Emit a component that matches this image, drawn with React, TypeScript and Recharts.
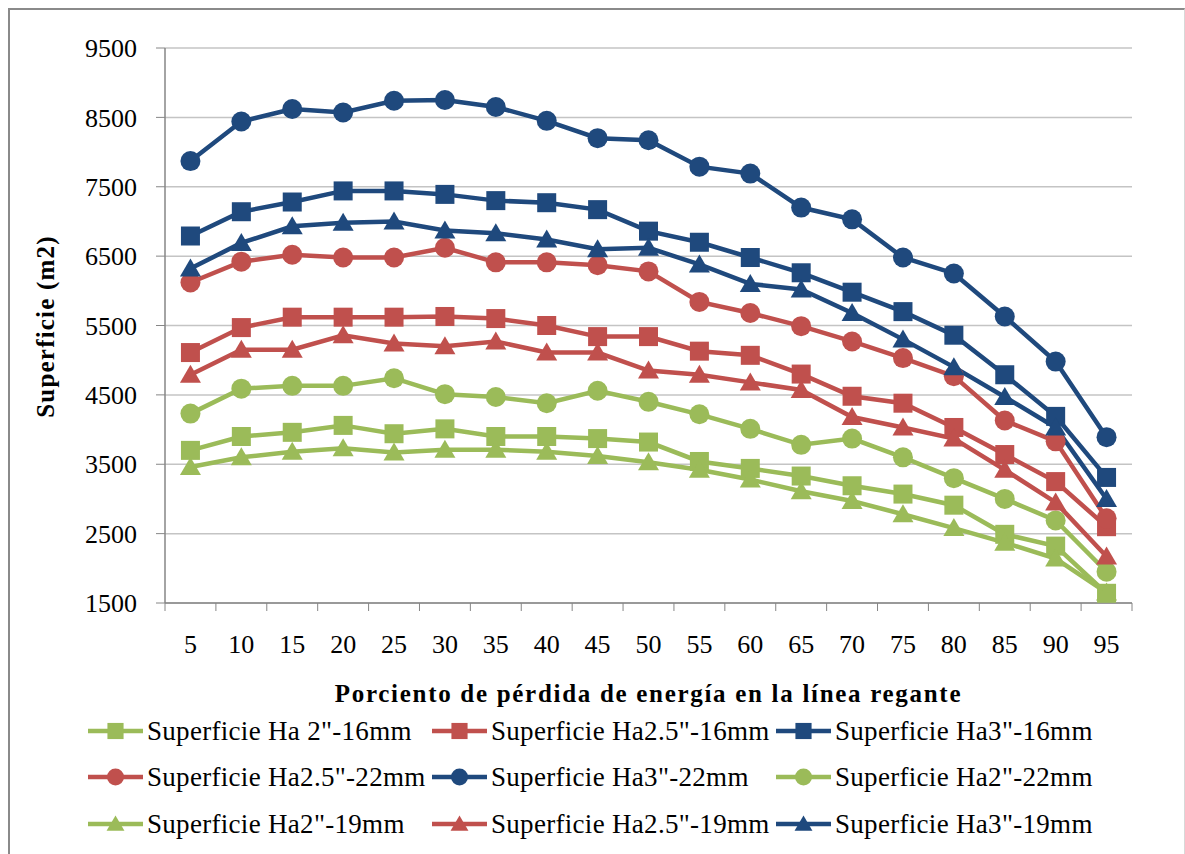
import React from "react";
import { LineChart, Line, XAxis, YAxis, CartesianGrid, Legend } from "recharts";

const categories = [5, 10, 15, 20, 25, 30, 35, 40, 45, 50, 55, 60, 65, 70, 75, 80, 85, 90, 95];
const yTicks = [1500, 2500, 3500, 4500, 5500, 6500, 7500, 8500, 9500];

const ha2_16 = [3700, 3900, 3960, 4060, 3940, 4010, 3900, 3900, 3870, 3820, 3540, 3440, 3330, 3190, 3070, 2910, 2490, 2320, 1640];
const ha25_16 = [5110, 5470, 5620, 5620, 5620, 5630, 5600, 5500, 5340, 5340, 5130, 5070, 4800, 4480, 4380, 4030, 3640, 3250, 2600];
const ha3_16 = [6790, 7140, 7280, 7440, 7440, 7390, 7300, 7270, 7170, 6860, 6700, 6480, 6260, 5980, 5700, 5360, 4790, 4190, 3310];
const ha25_22 = [6120, 6420, 6520, 6480, 6480, 6620, 6410, 6410, 6370, 6280, 5840, 5680, 5490, 5270, 5030, 4770, 4130, 3830, 2720];
const ha3_22 = [7870, 8440, 8620, 8570, 8740, 8750, 8650, 8450, 8200, 8170, 7790, 7690, 7200, 7030, 6480, 6250, 5630, 4980, 3890];
const ha2_22 = [4230, 4590, 4630, 4630, 4740, 4510, 4470, 4380, 4560, 4400, 4220, 4010, 3780, 3870, 3600, 3300, 3000, 2690, 1950];
const ha2_19 = [3460, 3600, 3680, 3730, 3670, 3710, 3710, 3680, 3620, 3530, 3420, 3280, 3110, 2970, 2780, 2580, 2370, 2140, 1650];
const ha25_19 = [4790, 5150, 5150, 5360, 5240, 5200, 5270, 5110, 5110, 4850, 4790, 4680, 4570, 4180, 4030, 3870, 3420, 2950, 2170];
const ha3_19 = [6320, 6690, 6930, 6980, 7000, 6870, 6830, 6740, 6600, 6620, 6380, 6100, 6020, 5680, 5300, 4900, 4470, 4030, 3000];

const GREEN = "#9BBB59";
const RED = "#C0504D";
const NAVY = "#1F497D";

type Shape = "square" | "circle" | "triangle";

const SERIES: { key: string; name: string; values: number[]; color: string; shape: Shape }[] = [
  { key: "s1", name: 'Superficie Ha 2"-16mm', values: ha2_16, color: GREEN, shape: "square" },
  { key: "s2", name: 'Superficie Ha2.5"-16mm', values: ha25_16, color: RED, shape: "square" },
  { key: "s3", name: 'Superficie Ha3"-16mm', values: ha3_16, color: NAVY, shape: "square" },
  { key: "s4", name: 'Superficie Ha2.5"-22mm', values: ha25_22, color: RED, shape: "circle" },
  { key: "s5", name: 'Superficie Ha3"-22mm', values: ha3_22, color: NAVY, shape: "circle" },
  { key: "s6", name: 'Superficie Ha2"-22mm', values: ha2_22, color: GREEN, shape: "circle" },
  { key: "s7", name: 'Superficie Ha2"-19mm', values: ha2_19, color: GREEN, shape: "triangle" },
  { key: "s8", name: 'Superficie Ha2.5"-19mm', values: ha25_19, color: RED, shape: "triangle" },
  { key: "s9", name: 'Superficie Ha3"-19mm', values: ha3_19, color: NAVY, shape: "triangle" },
];

const data = categories.map((c, i) => {
  const row: Record<string, number> = { x: c };
  SERIES.forEach((s) => (row[s.key] = s.values[i]));
  return row;
});

const FONT = "'Liberation Serif', 'DejaVu Serif', serif";
const PLOT_W = 967;
const STEP = PLOT_W / categories.length;

function Marker({ cx, cy, shape, color, size = 1 }: { cx: number; cy: number; shape: Shape; color: string; size?: number }) {
  if (shape === "circle") return <circle cx={cx} cy={cy} r={10 * size} fill={color} />;
  if (shape === "square") {
    const h = 9.5 * size;
    return <rect x={cx - h} y={cy - h} width={h * 2} height={h * 2} fill={color} />;
  }
  const w = 10.5 * size;
  const t = 10 * size;
  return <polygon points={`${cx},${cy - t} ${cx + w},${cy + 8 * size} ${cx - w},${cy + 8 * size}`} fill={color} />;
}

const makeDot = (shape: Shape, color: string) => (props: any) => {
  if (props.cx == null || props.cy == null) return <g key={props.index} />;
  return (
    <g key={`${shape}-${color}-${props.index}`}>
      <Marker cx={props.cx} cy={props.cy} shape={shape} color={color} />
    </g>
  );
};

function XTick(props: any) {
  const { x, y, payload, index } = props;
  const left = x - STEP / 2;
  return (
    <g>
      <line x1={left} y1={y} x2={left} y2={y + 8} stroke="#868686" />
      {index === categories.length - 1 && (
        <line x1={x + STEP / 2} y1={y} x2={x + STEP / 2} y2={y + 8} stroke="#868686" />
      )}
      <text x={x} y={y + 50} textAnchor="middle" fontFamily={FONT} fontSize={26} fill="#000">
        {payload.value}
      </text>
    </g>
  );
}

const legendCols = [88, 432, 776];
const legendRows = [26, 72, 119];

function LegendBox() {
  return (
    <svg width={1185} height={145} style={{ display: "block" }}>
      {SERIES.map((s, i) => {
        const lx = legendCols[i % 3];
        const ly = legendRows[Math.floor(i / 3)];
        return (
          <g key={s.key}>
            <line x1={lx} y1={ly} x2={lx + 55} y2={ly} stroke={s.color} strokeWidth={4.5} />
            <Marker cx={lx + 27.5} cy={ly} shape={s.shape} color={s.color} size={0.85} />
            <text x={lx + 59} y={ly + 9} fontFamily={FONT} fontSize={27} letterSpacing={0.3} fill="#000">
              {s.name}
            </text>
          </g>
        );
      })}
    </svg>
  );
}

export default function App() {
  return (
    <div style={{ position: "absolute", left: 0, top: 0, width: 1185, height: 854, background: "#fff" }}>
      <div
        style={{
          position: "absolute",
          left: 8,
          top: 8,
          width: 1174,
          height: 850,
          borderLeft: "2px solid #8a8a8a",
          borderTop: "2px solid #8a8a8a",
          borderRight: "1px solid #d8d8d8",
        }}
      />
      <LineChart
        width={1185}
        height={854}
        data={data}
        margin={{ top: 48, right: 53, left: 0, bottom: 4 }}
        style={{ position: "absolute", left: 0, top: 0 }}
      >
        <CartesianGrid horizontal vertical={false} stroke="#c4c4c4" strokeWidth={1.5} />
        <XAxis
          dataKey="x"
          type="category"
          height={102}
          padding={{ left: STEP / 2, right: STEP / 2 }}
          axisLine={{ stroke: "#868686", strokeWidth: 1.5 }}
          tickLine={false}
          tickSize={0}
          tickMargin={0}
          interval={0}
          tick={<XTick />}
          label={{
            content: (p: any) => (
              <text
                x={p.viewBox.x + p.viewBox.width / 2}
                y={p.viewBox.y + 99}
                textAnchor="middle"
                fontFamily={FONT}
                fontSize={25}
                letterSpacing={1.7}
                fontWeight="bold"
                fill="#000"
              >
                Porciento de pérdida de energía en la línea regante
              </text>
            ),
          }}
        />
        <YAxis
          width={165}
          domain={[1500, 9500]}
          ticks={yTicks}
          interval={0}
          allowDataOverflow
          axisLine={{ stroke: "#868686", strokeWidth: 1.5 }}
          tickLine={{ stroke: "#868686" }}
          tickSize={9}
          tickMargin={19}
          tick={{ fontFamily: FONT, fontSize: 26, fill: "#000" }}
          label={{
            content: (p: any) => {
              const cy = p.viewBox.y + p.viewBox.height / 2 + 1;
              return (
                <text
                  x={45}
                  y={cy}
                  transform={`rotate(-90 45 ${cy})`}
                  textAnchor="middle"
                  dominantBaseline="central"
                  fontFamily={FONT}
                  fontSize={25}
                  letterSpacing={1.2}
                  fontWeight="bold"
                  fill="#000"
                >
                  Superficie (m2)
                </text>
              );
            },
          }}
        />
        <Legend verticalAlign="bottom" content={() => <LegendBox />} wrapperStyle={{ left: 0, width: 1185, height: 145 }} />
        {SERIES.map((s) => (
          <Line
            key={s.key}
            dataKey={s.key}
            name={s.name}
            stroke={s.color}
            strokeWidth={4.5}
            type="linear"
            dot={makeDot(s.shape, s.color)}
            activeDot={false}
            isAnimationActive={false}
          />
        ))}
      </LineChart>
    </div>
  );
}
